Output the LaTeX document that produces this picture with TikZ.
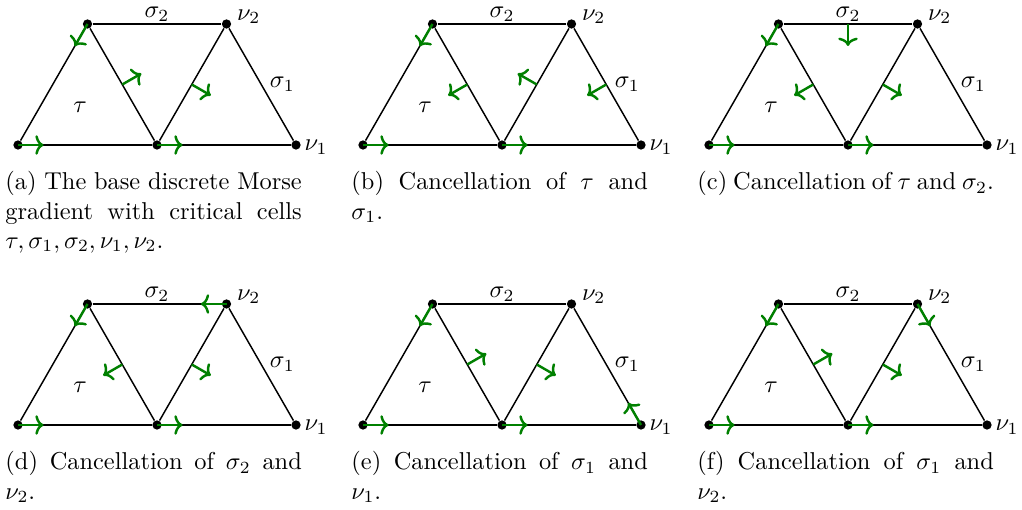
\documentclass[tikz,border=0pt]{standalone}
\usepackage{amsmath,amssymb}
\usepackage{xcolor}
\usepackage{tikz}
\usetikzlibrary{arrows.meta, calc}
\definecolor{gradgreen}{rgb}{0,0.5,0}

\begin{document}
\begin{tikzpicture}[x=0.41pt, y=0.41pt,
    vertex/.style={circle, fill=black, inner sep=0pt, minimum size=3.8pt},
    edge/.style={draw=black, line width=0.6pt},
    grad/.style={draw=gradgreen, line width=1pt, -{To[length=3.4pt, width=8pt]}},
    lbl/.style={font=\normalsize},
    caption/.style={anchor=north west, inner sep=0pt, text width=121.5pt, align=justify}
]
    \useasboundingbox (0,0) rectangle (1022,510);

    % Base complex, once per panel
    \foreach \p/\x/\y in {a/18/365, b/363/365, c/709/365, d/18/85, e/363/85, f/709/85}{
        \node (\p-bl) [vertex] at (\x,\y) {};
        \node (\p-bm) [vertex] at ($(\p-bl)+(139,0)$) {};
        \node (\p-br) [vertex] at ($(\p-bl)+(278,0)$) {};
        \node (\p-tl) [vertex] at ($(\p-bl)+(69.5,121)$) {};
        \node (\p-tr) [vertex] at ($(\p-bl)+(208.5,121)$) {};

        % edge midpoints
        \coordinate (\p-top) at ($(\p-tl)!0.5!(\p-tr)$);
        \coordinate (\p-lm) at ($(\p-tl)!0.5!(\p-bm)$);
        \coordinate (\p-mr) at ($(\p-bm)!0.5!(\p-tr)$);
        \coordinate (\p-rt) at ($(\p-tr)!0.5!(\p-br)$);

        \draw [edge] (\p-bl) -- (\p-bm) -- (\p-br);
        \draw [edge] (\p-tl) -- (\p-tr);
        \draw [edge] (\p-bl) -- (\p-tl) -- (\p-bm) -- (\p-tr) -- (\p-br);

        \node (\p-s2) [lbl, above, inner sep=1pt] at (\p-top) {$\sigma_2$};
        \node (\p-n2) [lbl, anchor=west, inner sep=0pt, xshift=4.2pt, yshift=3pt] at (\p-tr) {$\nu_2$};
        \node (\p-s1) [lbl, right] at (\p-rt) {$\sigma_1$};
        \node (\p-n1) [lbl, right, yshift=-1pt] at (\p-br) {$\nu_1$};
        \node (\p-tau) [lbl] at ($(\p-bl)+(62,38)$) {$\tau$};

        % pairings shared by all panels
        \draw [grad] (\p-bl.center) -- ($(\p-bl)!10.5pt!(\p-bm)$);
        \draw [grad] (\p-bm.center) -- ($(\p-bm)!10.5pt!(\p-br)$);
        \draw [grad] (\p-tl.center) -- ($(\p-tl)!10.5pt!(\p-bl)$);
    }

    % (a) base gradient
    \draw [grad] (a-lm) -- ($(a-lm)!9pt!90:(a-bm)$);
    \draw [grad] (a-mr) -- ($(a-mr)!9pt!-90:(a-tr)$);

    % (b) tau / sigma_1
    \draw [grad] (b-lm) -- ($(b-lm)!9pt!-90:(b-bm)$);
    \draw [grad] (b-mr) -- ($(b-mr)!9pt!90:(b-tr)$);
    \draw [grad] (b-rt) -- ($(b-rt)!9pt!-90:(b-br)$);

    % (c) tau / sigma_2
    \draw [grad] (c-top) -- ($(c-top)!9pt!-90:(c-tr)$);
    \draw [grad] (c-lm) -- ($(c-lm)!9pt!-90:(c-bm)$);
    \draw [grad] (c-mr) -- ($(c-mr)!9pt!-90:(c-tr)$);

    % (d) sigma_2 / nu_2
    \draw [grad] (d-tr.center) -- ($(d-tr)!10.5pt!(d-tl)$);
    \draw [grad] (d-lm) -- ($(d-lm)!9pt!-90:(d-bm)$);
    \draw [grad] (d-mr) -- ($(d-mr)!9pt!-90:(d-tr)$);

    % (e) sigma_1 / nu_1
    \draw [grad] (e-lm) -- ($(e-lm)!9pt!90:(e-bm)$);
    \draw [grad] (e-mr) -- ($(e-mr)!9pt!-90:(e-tr)$);
    \draw [grad] (e-br.center) -- ($(e-br)!10.5pt!(e-tr)$);

    % (f) sigma_1 / nu_2
    \draw [grad] (f-lm) -- ($(f-lm)!9pt!90:(f-bm)$);
    \draw [grad] (f-mr) -- ($(f-mr)!9pt!-90:(f-tr)$);
    \draw [grad] (f-tr.center) -- ($(f-tr)!10.5pt!(f-br)$);

    % Captions
    \node (a-cap) [caption] at ($(a-bl)+(-13,-26)$) {(a) The base discrete Morse\linebreak gradient with critical cells\linebreak $\tau,\sigma_1,\sigma_2,\nu_1,\nu_2$.};
    \node (b-cap) [caption] at ($(b-bl)+(-12,-26)$) {(b) Cancellation of $\tau$ and\linebreak $\sigma_1$.};
    \node (c-cap) [caption] at ($(c-bl)+(-12,-26)$) {(c) Cancellation of $\tau$ and $\sigma_2$.};
    \node (d-cap) [caption] at ($(d-bl)+(-13,-26)$) {(d) Cancellation of $\sigma_2$ and\linebreak $\nu_2$.};
    \node (e-cap) [caption] at ($(e-bl)+(-12,-26)$) {(e) Cancellation of $\sigma_1$ and\linebreak $\nu_1$.};
    \node (f-cap) [caption] at ($(f-bl)+(-12,-26)$) {(f) Cancellation of $\sigma_1$ and\linebreak $\nu_2$.};
\end{tikzpicture}
\end{document}
